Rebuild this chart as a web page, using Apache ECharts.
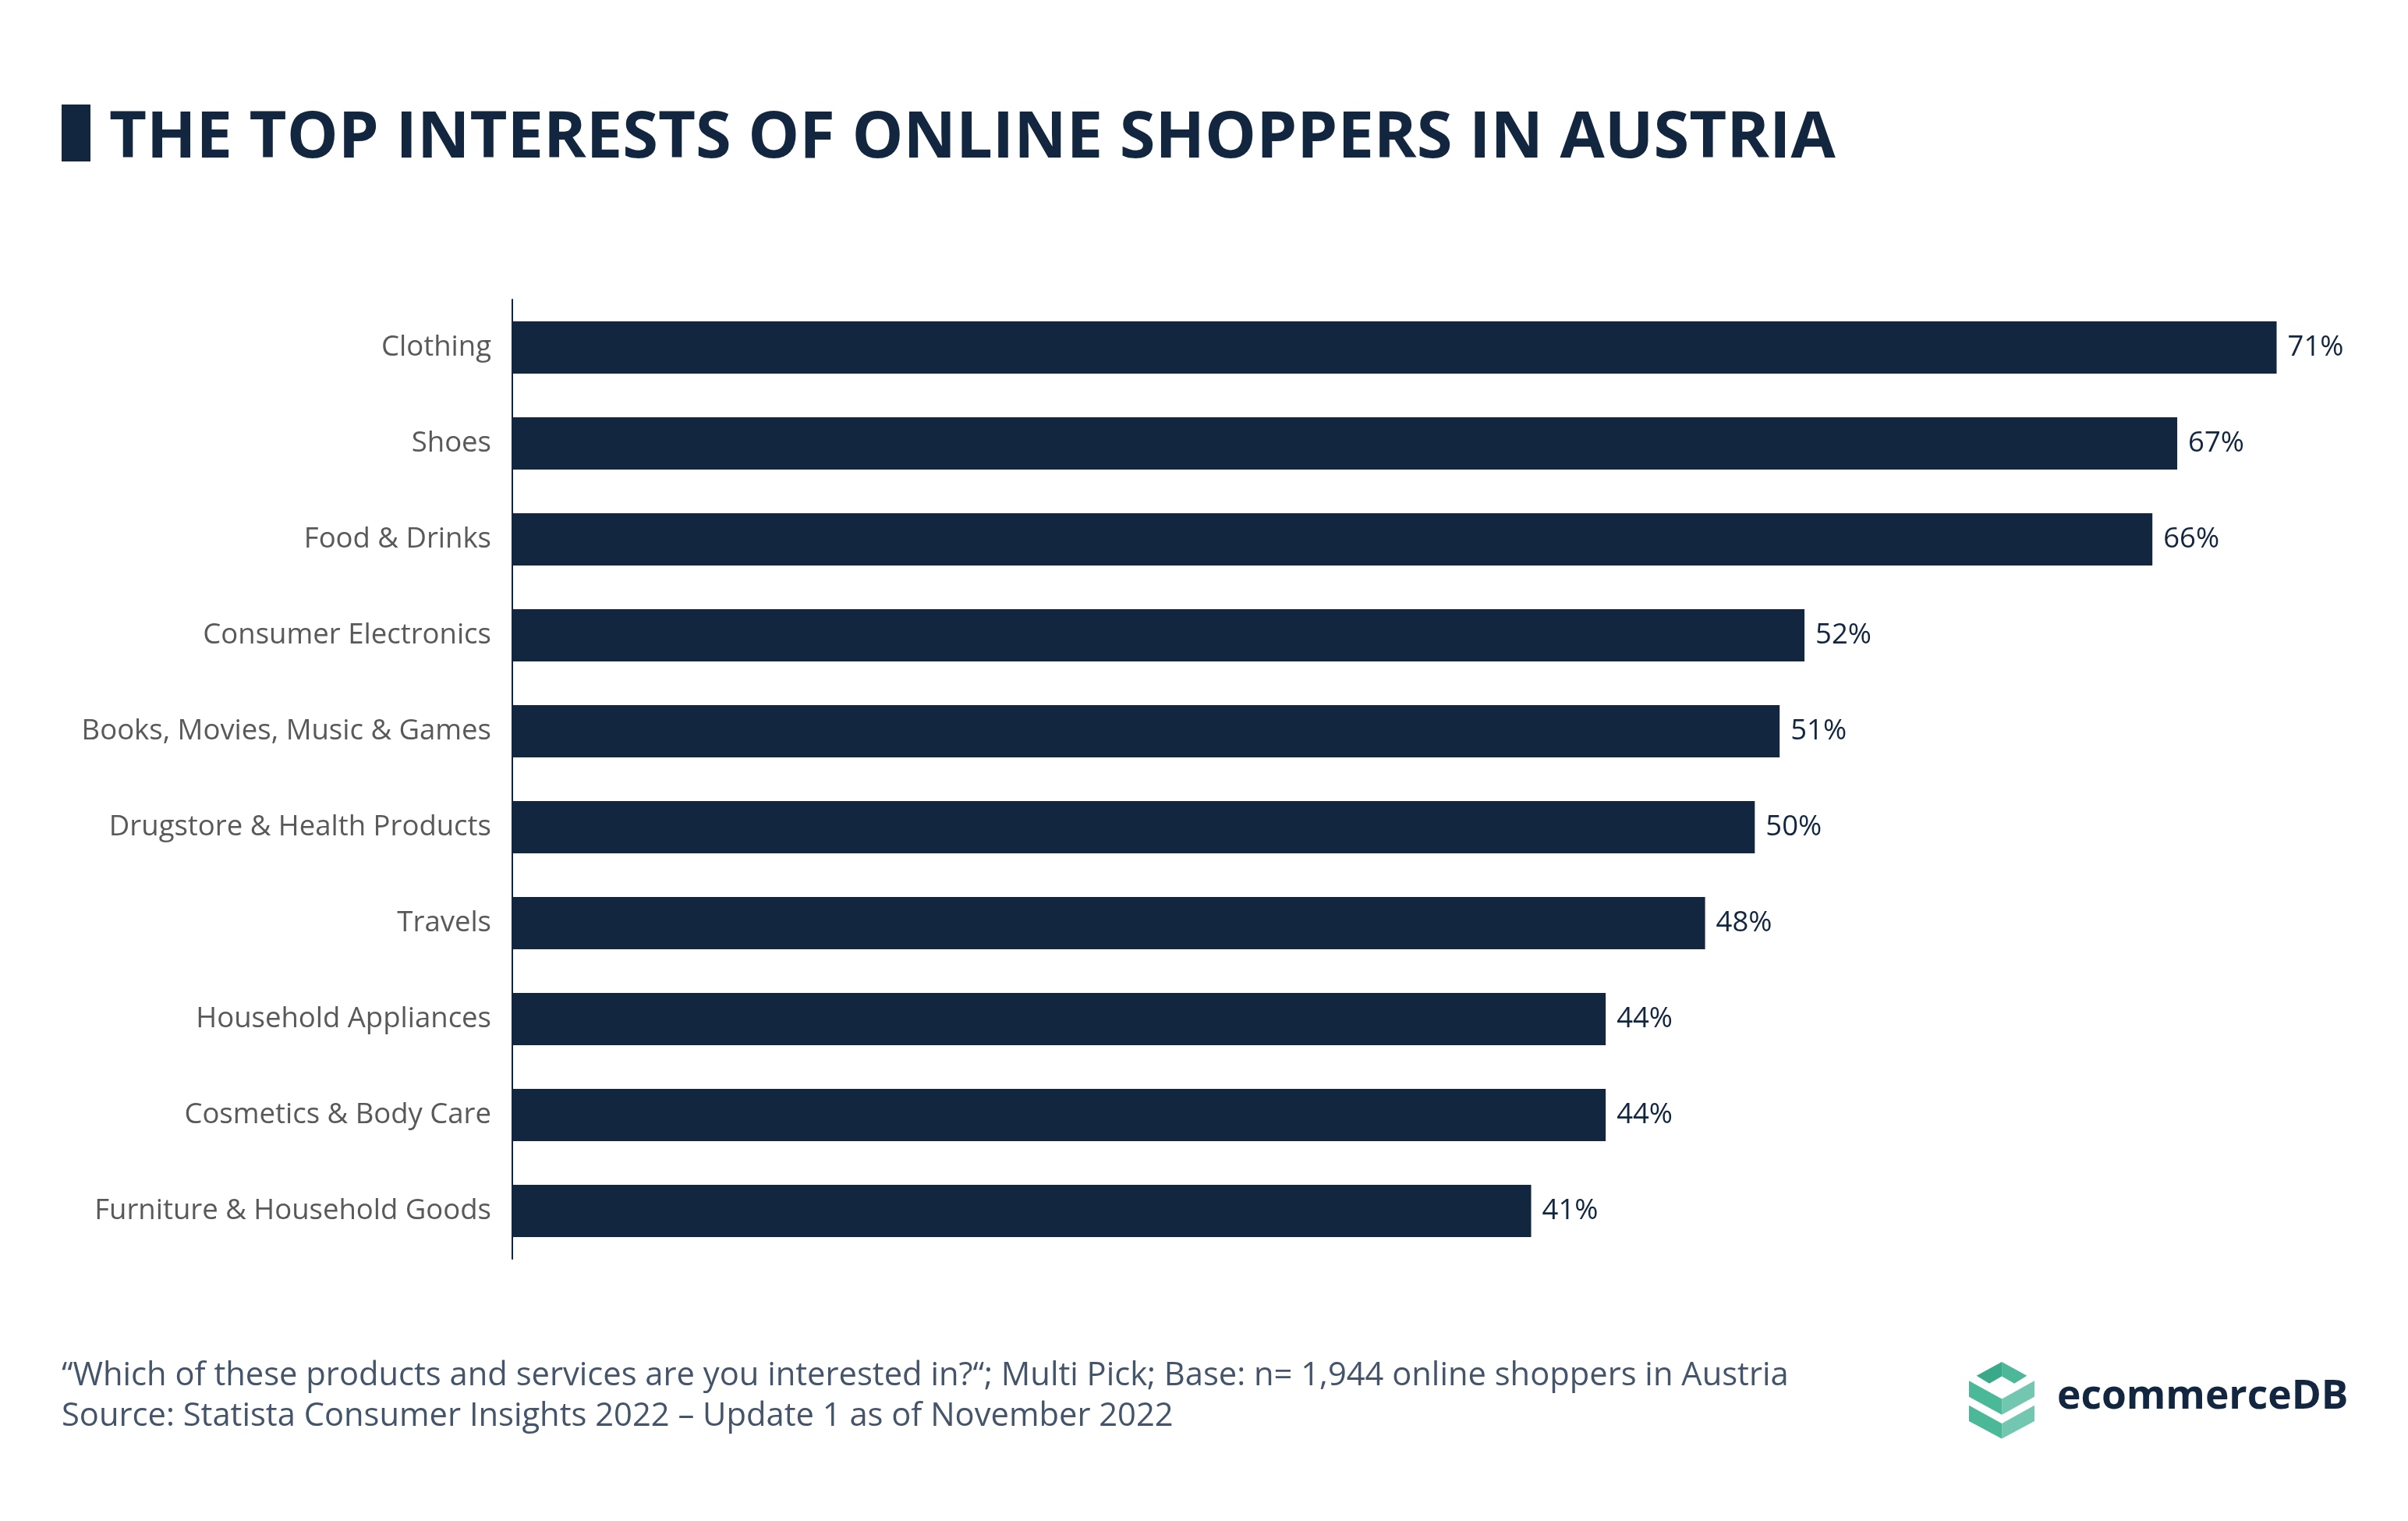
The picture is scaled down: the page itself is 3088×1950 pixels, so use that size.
<!DOCTYPE html>
<html>
<head>
<meta charset="utf-8">
<script src="https://cdn.jsdelivr.net/npm/echarts@6/dist/echarts.min.js"></script>
<style>
  html, body { margin: 0; padding: 0; background: #fff; }
  #main { width: 3088px; height: 1950px; }
</style>
</head>
<body>
<div id="main"></div>
<script>
// data
const categories = [
  'Clothing', 'Shoes', 'Food & Drinks', 'Consumer Electronics',
  'Books, Movies, Music & Games', 'Drugstore & Health Products', 'Travels',
  'Household Appliances', 'Cosmetics & Body Care', 'Furniture & Household Goods'
]
const shares = [71, 67, 66, 52, 51, 50, 48, 44, 44, 41]

const navy = '#13263f'
const font = '"Open Sans", "Noto Sans", sans-serif'

// logo icon (three stacked chevrons), coords relative to icon box
const iconX = 2525, iconY = 1746, s = 1 / 2.8
const p = (pts) => pts.map(([x, y]) => [iconX + (x - 70) * s, iconY + (y - 72) * s])
const iconShapes = [
  // top roof
  { pts: [[97, 122], [188, 72], [188, 124], [143, 150]], color: '#3aa98a' },
  { pts: [[188, 72], [278, 122], [233, 150], [188, 124]], color: '#4cb899' },
  // middle band
  { pts: [[70, 140], [188, 205], [188, 262], [70, 197]], color: '#4bb898' },
  { pts: [[188, 205], [305, 140], [305, 197], [188, 262]], color: '#73c6b0' },
  // bottom band
  { pts: [[70, 228], [188, 293], [188, 348], [70, 285]], color: '#4bb898' },
  { pts: [[188, 293], [305, 228], [305, 285], [188, 348]], color: '#73c6b0' }
]

const chart = echarts.init(document.getElementById('main'))

chart.setOption({
  backgroundColor: '#fff',
  animation: false,
  textStyle: { fontFamily: font },
  title: {
    text: 'THE TOP INTERESTS OF ONLINE SHOPPERS IN AUSTRIA',
    left: 135,
    top: 132,
    textStyle: { fontFamily: font, fontSize: 83, fontWeight: 'bold', color: navy }
  },
  grid: { left: 657, top: 384, width: 2390, height: 1230 },
  xAxis: {
    type: 'value',
    min: 0,
    max: 75,
    show: false,
    splitLine: { show: false }
  },
  yAxis: {
    type: 'category',
    data: categories,
    inverse: true,
    axisLine: { show: true, lineStyle: { color: navy, width: 2 } },
    axisTick: { show: false },
    axisLabel: { margin: 27, fontSize: 36.5, color: '#595959', fontFamily: font, padding: [8, 0, 0, 0] }
  },
  series: [{
    type: 'bar',
    data: shares,
    barWidth: '54.5%',
    itemStyle: { color: navy },
    label: {
      show: true,
      position: 'right',
      distance: 14,
      formatter: '{c}%',
      fontSize: 36.5,
      color: navy,
      fontFamily: font,
      padding: [8, 0, 0, 0]
    }
  }],
  graphic: [
    // title marker
    { type: 'rect', shape: { x: 79, y: 134, width: 37, height: 73 }, style: { fill: navy } },
    // footer
    {
      type: 'text', left: 79, top: 1738,
      style: {
        text: '\u201CWhich of these products and services are you interested in?\u201C; Multi Pick; Base: n= 1,944 online shoppers in Austria\nSource: Statista Consumer Insights 2022 \u2013 Update 1 as of November 2022',
        font: '41.7px ' + font,
        lineHeight: 52,
        fill: '#44546a'
      }
    },
    // logo text
    {
      type: 'text', left: 2638, top: 1765,
      style: { text: 'ecommerceDB', font: 'bold 51.5px ' + font, fill: navy }
    },
    ...iconShapes.map(sh => ({
      type: 'polygon',
      shape: { points: p(sh.pts) },
      style: { fill: sh.color }
    }))
  ]
})
</script>
</body>
</html>
